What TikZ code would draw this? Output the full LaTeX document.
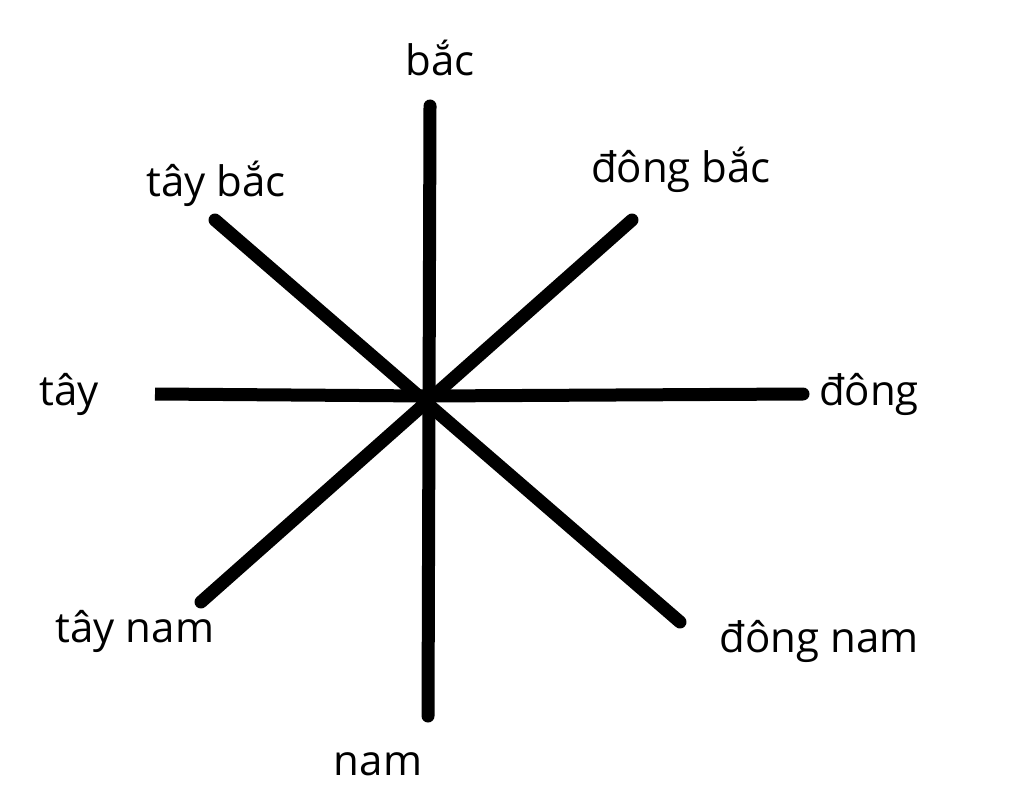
\documentclass[tikz,border=0pt]{standalone}
\usepackage{fontspec}
\setmainfont{Open Sans}
\begin{document}
\begin{tikzpicture}[x=1pt,y=-1pt,
  ray/.style={line width=13pt,line cap=round},
  lbl/.style={inner sep=0pt,anchor=base,font=\fontsize{42}{46}\selectfont}]
\useasboundingbox (0,0) rectangle (1024,810);
\fill[white] (0,0) rectangle (1024,810);
\coordinate (c) at (428,396);
\coordinate (n) at (430,106);
\coordinate (s) at (428,716);
\coordinate (w) at (155,394);
\coordinate (e) at (803,394);
\coordinate (nw) at (215,220);
\coordinate (ne) at (632,220);
\coordinate (sw) at (201,602);
\coordinate (se) at (680,622);
\draw[ray] (n) -- (s);
\draw[ray,line cap=butt] (w) -- (c);
\draw[ray] (c) -- (e);
\draw[ray] (nw) -- (se);
\draw[ray] (ne) -- (sw);
\node[lbl] (tn) at (440,76) {bắc};
\node[lbl] (tnw) at (216,197) {tây bắc};
\node[lbl] (tne) at (681,183) {đông bắc};
\node[lbl] (tw) at (69,405) {tây};
\node[lbl] (te) at (869,405) {đông};
\node[lbl] (tsw) at (135,642) {tây nam};
\node[lbl] (tse) at (819,652) {đông nam};
\node[lbl] (ts) at (378,775) {nam};
\end{tikzpicture}
\end{document}
